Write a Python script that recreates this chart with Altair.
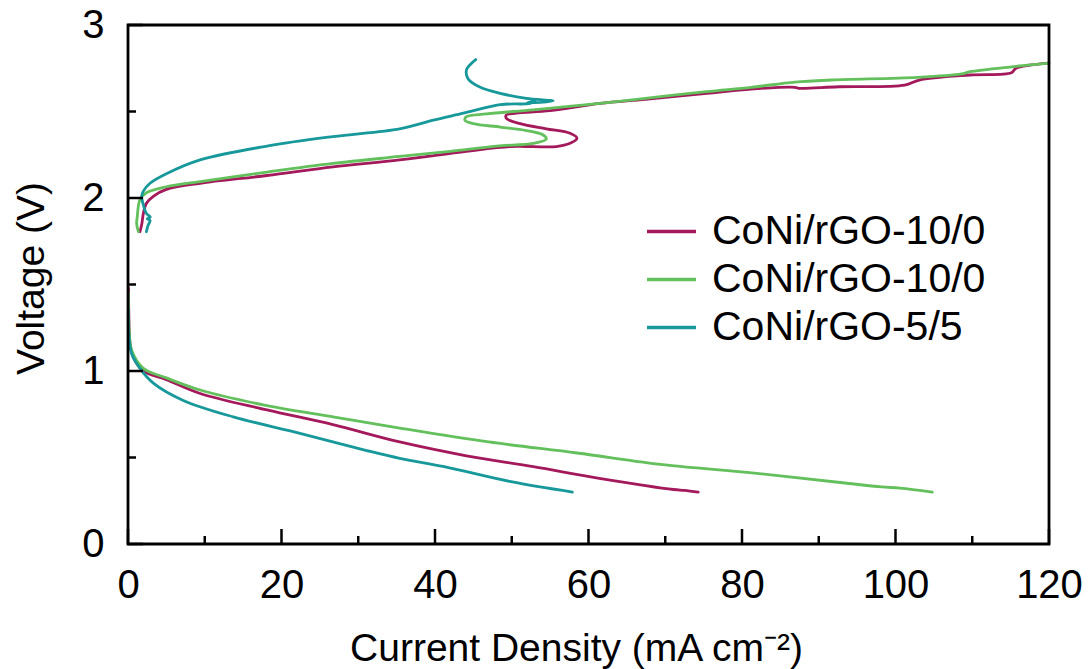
import altair as alt
import pandas as pd

# ---- data ----
series_keys = ["s1", "s2", "s3"]
series_labels = ["CoNi/rGO-10/0", "CoNi/rGO-10/0", "CoNi/rGO-5/5"]
series_colors = ["#A3195B", "#63C05C", "#17989A"]

# CoNi/rGO-10/0 (maroon)
s1_dis_x = [0.05, 0.1, 0.26, 0.7, 2.0, 5.0, 9.4, 18.1, 26.7, 35.4, 44.1, 52.8, 61.4, 71.1, 72.5, 74.3]
s1_dis_v = [1.48, 1.35, 1.16, 1.08, 1.00, 0.95, 0.87, 0.775, 0.69, 0.59, 0.51, 0.447, 0.38, 0.315, 0.31, 0.30]
s1_chg_x = [1.56, 1.8, 2.0, 2.4, 3.3, 5.0, 9.4, 18.1, 26.7, 35.4, 44.1, 49.8, 52.8, 55.8, 57.6, 58.5, 57.6,
            54.5, 51.1, 49.3, 49.3, 50.6, 55.0, 61.5, 67.4, 75.4, 81.2, 86.9, 87.4, 92.6, 101.2, 103.1,
            109.7, 115.1, 115.7, 119.9]
s1_chg_v = [1.805, 1.85, 1.91, 1.97, 2.01, 2.05, 2.085, 2.13, 2.18, 2.22, 2.27, 2.297, 2.297, 2.297, 2.316,
            2.345, 2.374, 2.40, 2.43, 2.46, 2.48, 2.49, 2.505, 2.547, 2.57, 2.605, 2.63, 2.64, 2.634, 2.643,
            2.653, 2.682, 2.711, 2.724, 2.75, 2.78]

# CoNi/rGO-10/0 (green)
s2_dis_x = [0.05, 0.17, 0.48, 2.0, 5.0, 9.4, 18.1, 26.7, 35.4, 47.0, 58.5, 70.0, 81.6, 93.1, 98.2, 100.6, 104.8]
s2_dis_v = [1.45, 1.22, 1.12, 1.015, 0.96, 0.89, 0.80, 0.735, 0.67, 0.59, 0.526, 0.457, 0.41, 0.354, 0.33, 0.323, 0.30]
s2_chg_x = [1.35, 1.13, 1.2, 1.56, 2.4, 5.0, 9.4, 18.1, 26.7, 35.4, 42.0, 48.0, 52.8, 54.5, 54.1, 51.9, 48.5,
            45.0, 43.9, 44.1, 46.7, 52.8, 61.5, 67.4, 75.4, 81.2, 86.9, 91.7, 102.9, 108.6, 109.7, 115.4, 120.0]
s2_chg_v = [1.805, 1.85, 1.89, 1.99, 2.03, 2.065, 2.095, 2.15, 2.2, 2.24, 2.27, 2.30, 2.316, 2.34, 2.364, 2.39,
            2.41, 2.43, 2.45, 2.47, 2.486, 2.51, 2.547, 2.576, 2.615, 2.64, 2.67, 2.682, 2.697, 2.717, 2.73,
            2.76, 2.78]

# CoNi/rGO-5/5 (teal)
s3_dis_x = [0.05, 0.1, 0.48, 1.56, 3.3, 7.2, 13.7, 22.4, 31.1, 35.4, 41.2, 49.9, 57.9]
s3_dis_v = [1.35, 1.22, 1.10, 1.015, 0.93, 0.83, 0.735, 0.64, 0.54, 0.495, 0.447, 0.36, 0.30]
s3_chg_x = [2.4, 2.6, 2.87, 2.5, 2.9, 2.4, 2.0, 1.78, 2.0, 2.87, 5.0, 9.4, 18.1, 26.7, 35.4, 39.8, 43.7,
            48.5, 52.4, 53.0, 52.0, 55.4, 51.9, 48.5, 45.9, 44.3, 44.1, 44.8, 45.3]
s3_chg_v = [1.805, 1.84, 1.87, 1.88, 1.89, 1.91, 1.96, 2.01, 2.04, 2.085, 2.14, 2.22, 2.30, 2.355, 2.40,
            2.45, 2.49, 2.54, 2.547, 2.56, 2.55, 2.561, 2.576, 2.605, 2.64, 2.69, 2.74, 2.78, 2.80]

x_major = [0, 20, 40, 60, 80, 100, 120]
x_minor = [10, 30, 50, 70, 90, 110]
y_major = [0, 1, 2, 3]
y_minor = [0.5, 1.5, 2.5]

# ---- build table ----
rows = []
segments = [
    ("s1", "dis", s1_dis_x, s1_dis_v), ("s1", "chg", s1_chg_x, s1_chg_v),
    ("s2", "dis", s2_dis_x, s2_dis_v), ("s2", "chg", s2_chg_x, s2_chg_v),
    ("s3", "dis", s3_dis_x, s3_dis_v), ("s3", "chg", s3_chg_x, s3_chg_v),
]
for key, seg, xs, vs in segments:
    for i, (x, v) in enumerate(zip(xs, vs)):
        rows.append({"series": key, "seg": key + seg, "i": i, "x": x, "v": v})
df = pd.DataFrame(rows)

W, H = 921, 519
FONT = "Liberation Sans"

label_expr = " : ".join(
    f"datum.value == '{k}' ? '{l}'" for k, l in zip(series_keys[:-1], series_labels[:-1])
) + f" : '{series_labels[-1]}'"

common_axis = dict(domain=False, ticks=False, tickSize=0, grid=False, labelFlush=False,
                   labelFont=FONT, labelFontSize=40, labelColor="black",
                   titleFont=FONT, titleFontSize=39, titleFontWeight="normal", titleColor="black")

xscale = alt.Scale(domain=[0, 120], nice=False, zero=False)
yscale = alt.Scale(domain=[0, 3], nice=False, zero=False)
x_axis = alt.Axis(values=x_major, title="Current Density (mA cm\u207b\u00b2)",
                  titleX=448, titleY=116, titleBaseline="alphabetic", titleAlign="center",
                  labelPadding=21, **common_axis)
y_axis = alt.Axis(values=y_major, title="Voltage (V)", titleAngle=270,
                  titleX=-85, titleY=253, titleBaseline="alphabetic", titleAlign="center",
                  labelPadding=24, **common_axis)

lines = alt.Chart(df).mark_line(strokeWidth=2.8, strokeCap="round", strokeJoin="round",
                                interpolate="catmull-rom").encode(
    x=alt.X("x:Q", scale=xscale, axis=x_axis),
    y=alt.Y("v:Q", scale=yscale, axis=y_axis),
    color=alt.Color("series:N",
                    scale=alt.Scale(domain=series_keys, range=series_colors),
                    legend=alt.Legend(title=None, orient="none", legendX=517, legendY=180,
                                      symbolType="stroke", symbolSize=2401, symbolStrokeWidth=3.5,
                                      labelFontSize=41, labelFont=FONT, labelColor="black",
                                      labelOffset=14, rowPadding=1, padding=0, labelLimit=0,
                                      labelExpr=label_expr)),
    detail="seg:N",
    order="i:Q",
)

def xticks(vals, length):
    return alt.Chart(pd.DataFrame({"x": vals})).mark_rule(color="black", strokeWidth=2.5).encode(
        x=alt.X("x:Q", scale=xscale, axis=x_axis),
        y=alt.value(H), y2=alt.value(H - length))

def yticks(vals, length):
    return alt.Chart(pd.DataFrame({"v": vals})).mark_rule(color="black", strokeWidth=2.5).encode(
        y=alt.Y("v:Q", scale=yscale, axis=y_axis),
        x=alt.value(0), x2=alt.value(length))

frame = alt.Chart(pd.DataFrame({"v": [0]})).mark_rect(
    fill=None, fillOpacity=0, stroke="black", strokeWidth=2.8
).encode(x=alt.value(0), x2=alt.value(W), y=alt.value(0), y2=alt.value(H))

chart = alt.layer(
    lines,
    xticks(x_major, 15), xticks(x_minor, 8),
    yticks(y_major, 15), yticks(y_minor, 8),
    frame,
).properties(
    width=W, height=H,
    autosize=alt.AutoSizeParams(type="none"),
    padding={"left": 128, "top": 25, "right": 39, "bottom": 125},
).configure(
    background="white"
).configure_view(
    strokeWidth=0
).configure_axis(**common_axis)

chart.save("out.html", embed_options={"renderer": "svg", "actions": False})
